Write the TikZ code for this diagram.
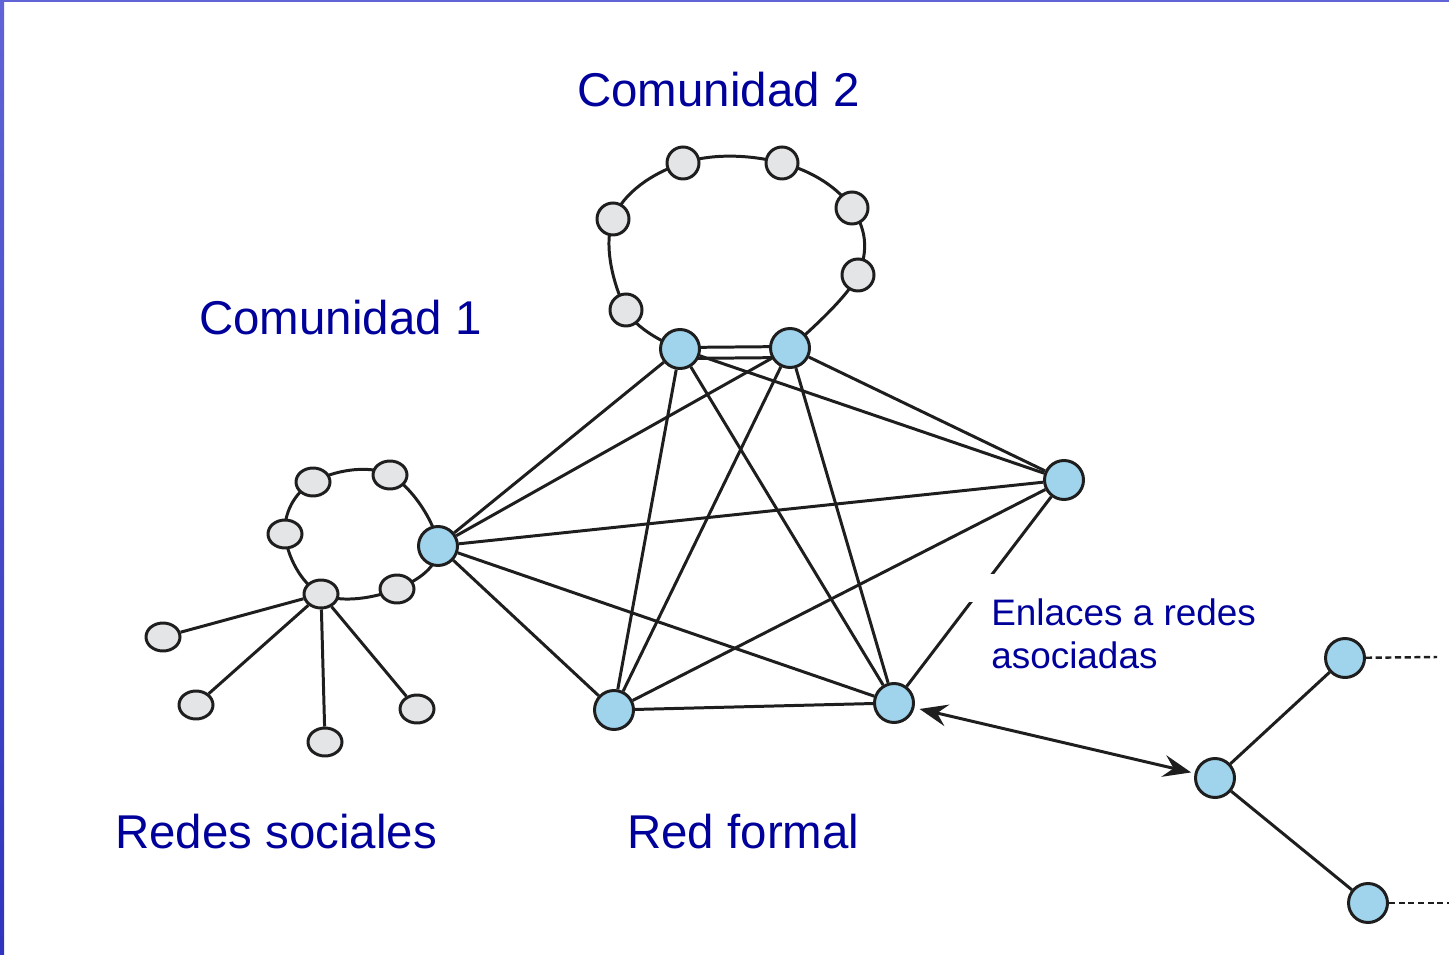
\documentclass[tikz,border=0pt]{standalone}
\usepackage{fontspec}
\setmainfont{Liberation Sans}
\usetikzlibrary{shapes.geometric,arrows.meta,backgrounds}
\definecolor{txtblue}{RGB}{0,0,155}
\definecolor{nodeblue}{RGB}{160,212,236}
\definecolor{nodegray}{RGB}{228,229,231}
\definecolor{edgeblack}{RGB}{30,30,30}
\definecolor{frametop}{RGB}{96,100,214}
\definecolor{framebot}{RGB}{48,52,190}
\begin{document}
\begin{tikzpicture}[x=0.02cm,y=-0.02cm,
  bnode/.style={circle,draw=edgeblack,line width=1.7pt,fill=nodeblue,minimum size=0.78cm,inner sep=0pt},
  gnode/.style={circle,draw=edgeblack,line width=1.7pt,fill=nodegray,minimum size=0.64cm,inner sep=0pt},
  gell/.style={ellipse,draw=edgeblack,line width=1.7pt,fill=nodegray,minimum width=0.68cm,minimum height=0.56cm,inner sep=0pt},
  link/.style={draw=edgeblack,line width=1.7pt},
  title/.style={text=txtblue,font=\fontsize{27}{32}\selectfont,anchor=base west,inner sep=0pt},
  note/.style={text=txtblue,font=\fontsize{21}{25}\selectfont,anchor=base west,inner sep=0pt},
  dots/.style={draw=edgeblack,line width=1.4pt,dash pattern=on 3.5pt off 2pt},
  biarrow/.style={draw=edgeblack,line width=1.7pt,{Stealth[length=0.56cm,width=0.44cm,inset=0.2cm]}-{Stealth[length=0.56cm,width=0.44cm,inset=0.2cm]},shorten <=3pt,shorten >=2pt}
]
\useasboundingbox (0,0) rectangle (1449,955);

% frame strips
\fill[top color=frametop,bottom color=framebot] (0,0) rectangle (4,955);
\fill[frametop] (0,0) rectangle (1449,2.5);

% formal network (blue)
\node[bnode] (A) at (680,349) {};
\node[bnode] (B) at (790,348) {};
\node[bnode] (C) at (1064,480) {};
\node[bnode] (D) at (438,546) {};
\node[bnode] (E) at (614,710) {};
\node[bnode] (F) at (894,703) {};

% community 2 ring
\node[gnode] (c2a) at (626,310) {};
\node[gnode] (c2b) at (613,219) {};
\node[gnode] (c2c) at (683,163) {};
\node[gnode] (c2d) at (782,163) {};
\node[gnode] (c2e) at (852,208) {};
\node[gnode] (c2f) at (858,275) {};

% community 1 ring
\node[gell] (c1a) at (313,482) {};
\node[gell] (c1b) at (390,475) {};
\node[gell] (c1c) at (397,589) {};
\node[gell] (H) at (321,594) {};
\node[gell] (c1e) at (285,534) {};

% star leaves
\node[gell] (L1) at (163,637) {};
\node[gell] (L2) at (196,705) {};
\node[gell] (L3) at (325,742) {};
\node[gell] (L4) at (417,709) {};

% associated network
\node[bnode] (R1) at (1215,778) {};
\node[bnode] (R2) at (1345,658) {};
\node[bnode] (R3) at (1368,903) {};
\coordinate (R2end) at (1437,657);
\coordinate (R3end) at (1449,903);

\begin{pgfonlayer}{background}
  % rings
  \draw[link] plot[smooth, tension=0.65] coordinates {(A) (c2a) (c2b) (c2c) (c2d) (c2e) (c2f) (B)};
  \draw[link] plot[smooth cycle, tension=0.65] coordinates {(c1a) (c1b) (D) (c1c) (H) (c1e)};
  % double link
  \draw[link] ([yshift=0.03cm]A.center) -- ([yshift=0.03cm]B.center);
  \draw[link] ([yshift=-0.19cm]A.center) -- ([yshift=-0.19cm]B.center);
  % complete graph
  \foreach \u/\v in {A/D,A/E,A/F,A/C,B/D,B/E,B/F,B/C,D/E,D/F,D/C,E/F,E/C,F/C}
    \draw[link] (\u) -- (\v);
  % star
  \foreach \v in {L1,L2,L3,L4}
    \draw[link] (H) -- (\v);
  % associated network
  \draw[link] (R1) -- (R2);
  \draw[link] (R1) -- (R3);
\end{pgfonlayer}

\draw[dots] (R2) -- (R2end);
\draw[dots] (R3) -- (R3end);
\draw[biarrow] (F) -- (R1);

% label mask over the F--C link
\fill[white] (964,574) rectangle (1000,602);

% texts
\node[title] (t2) at (577,107) {Comunidad 2};
\node[title] (t1) at (199,335) {Comunidad 1};
\node[title] (t3) at (115,848) {Redes sociales};
\node[title] (t4) at (627,848) {Red formal};
\node[note] (n1) at (991,625) {Enlaces a redes};
\node[note] (n2) at (991,668) {asociadas};
\end{tikzpicture}
\end{document}
